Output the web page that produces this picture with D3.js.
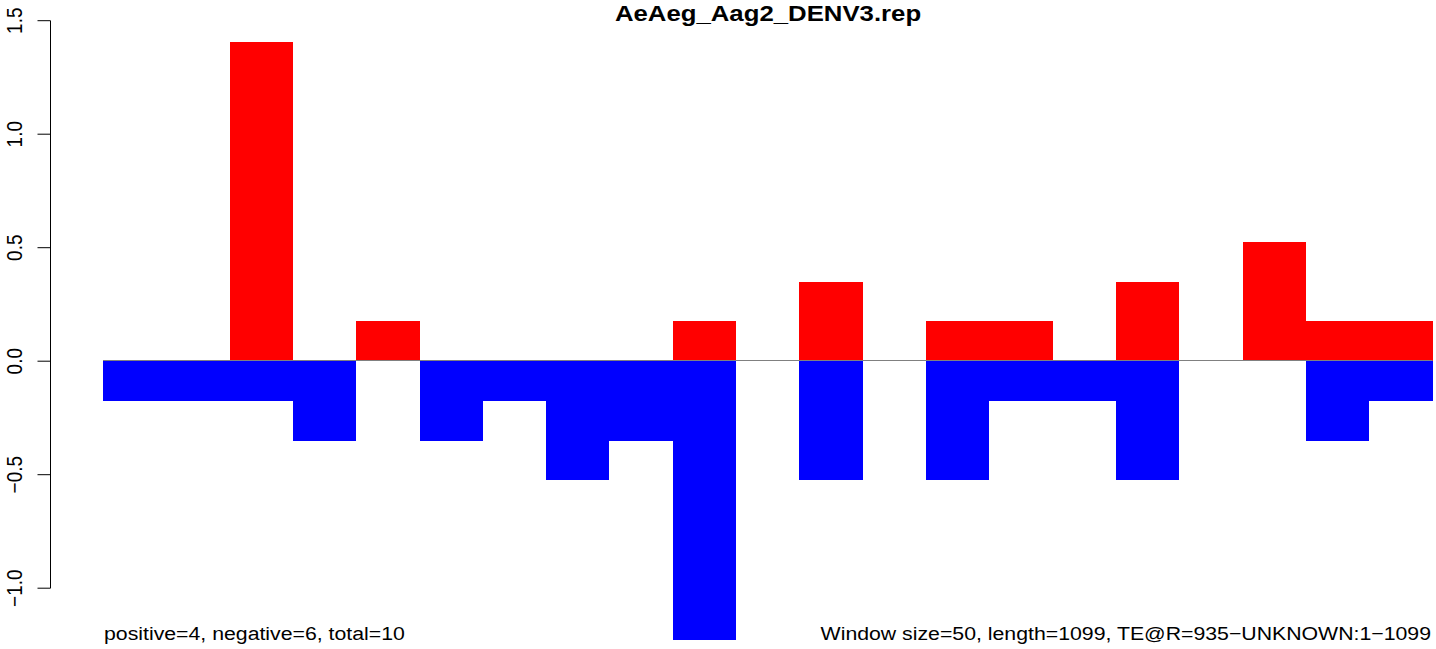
<!DOCTYPE html>
<html>
<head>
<meta charset="utf-8">
<script src="https://cdn.jsdelivr.net/npm/d3@7"></script>
<style>
body { margin: 0; background: #fff; }
text { font-family: "Liberation Sans", Arial, sans-serif; }
</style>
</head>
<body>
<svg id="mysvg" width="1436" height="649"></svg>
<script>
var title = "AeAeg_Aag2_DENV3.rep";
var windowSize = 50;
var seqLength = 1099;
// one value per 50bp window, window 0 starts at position 0
var positive = [0, 0, 0, 1.404, 0, 0.175, 0, 0, 0, 0, 0.175, 0, 0.351, 0, 0.175, 0.175, 0, 0.351, 0, 0.526, 0.175, 0.175];
var negative = [0, -0.175, -0.175, -0.175, -0.351, 0, -0.351, -0.175, -0.526, -0.351, -1.228, 0, -0.526, 0, -0.526, -0.175, -0.175, -0.526, 0, 0, -0.351, -0.175];
var yTicks = [-1.0, -0.5, 0.0, 0.5, 1.0, 1.5];
var leftNote = "positive=4, negative=6, total=10";
var rightNote = "Window size=50, length=1099, TE@R=935\u2212UNKNOWN:1\u22121099";

var svg = d3.select("#mysvg");
var sx = 1.12;   // text in the picture is stretched sideways

var x = d3.scaleLinear().domain([0, 1100]).range([39.7, 1432.5]);
var y = d3.scaleLinear().domain([-1, 1.5]).range([588.2, 20.7]);

function drawBars(values, color) {
	svg.append("g").selectAll("rect")
		.data(values)
		.enter().append("rect")
		.attr("x", function(d, i){ return Math.round(x(i * windowSize)); })
		.attr("width", function(d, i){ return Math.round(x((i + 1) * windowSize)) - Math.round(x(i * windowSize)); })
		.attr("y", function(d){ return Math.round(Math.min(y(d), y(0))); })
		.attr("height", function(d){ return Math.round(Math.abs(y(d) - y(0))); })
		.attr("fill", color)
		.attr("shape-rendering", "crispEdges");
}

drawBars(positive, "#ff0000");
drawBars(negative, "#0000ff");

// zero line
svg.append("line")
	.attr("x1", x(windowSize)).attr("x2", x(22 * windowSize))
	.attr("y1", Math.round(y(0)) - 0.5).attr("y2", Math.round(y(0)) - 0.5)
	.attr("stroke", "#808080").attr("stroke-width", 1);

// y axis
var axisX = 50.5;
var ax = svg.append("g");
ax.append("line")
	.attr("x1", axisX).attr("x2", axisX)
	.attr("y1", y(-1)).attr("y2", y(1.5))
	.attr("stroke", "#000");
ax.selectAll(".tick").data(yTicks).enter().append("line")
	.attr("x1", axisX - 13).attr("x2", axisX)
	.attr("y1", function(d){ return y(d); }).attr("y2", function(d){ return y(d); })
	.attr("stroke", "#000");
ax.selectAll(".lab").data(yTicks).enter().append("text")
	.attr("transform", function(d){ return "translate(21.5," + y(d) + ") scale(" + sx + ",1) rotate(-90)"; })
	.attr("text-anchor", "middle")
	.attr("font-size", 19)
	.text(function(d){ return d3.format(".1f")(d).replace("-", "\u2212"); });

// title and notes
svg.append("text")
	.attr("transform", "translate(768,21) scale(" + sx + ",1)")
	.attr("text-anchor", "middle")
	.attr("font-size", 23)
	.attr("font-weight", "bold")
	.text(title);

svg.append("text")
	.attr("transform", "translate(104,640) scale(" + sx + ",1)")
	.attr("font-size", 19)
	.text(leftNote);

svg.append("text")
	.attr("transform", "translate(1431,640) scale(" + sx + ",1)")
	.attr("text-anchor", "end")
	.attr("font-size", 19)
	.text(rightNote);
</script>
</body>
</html>
